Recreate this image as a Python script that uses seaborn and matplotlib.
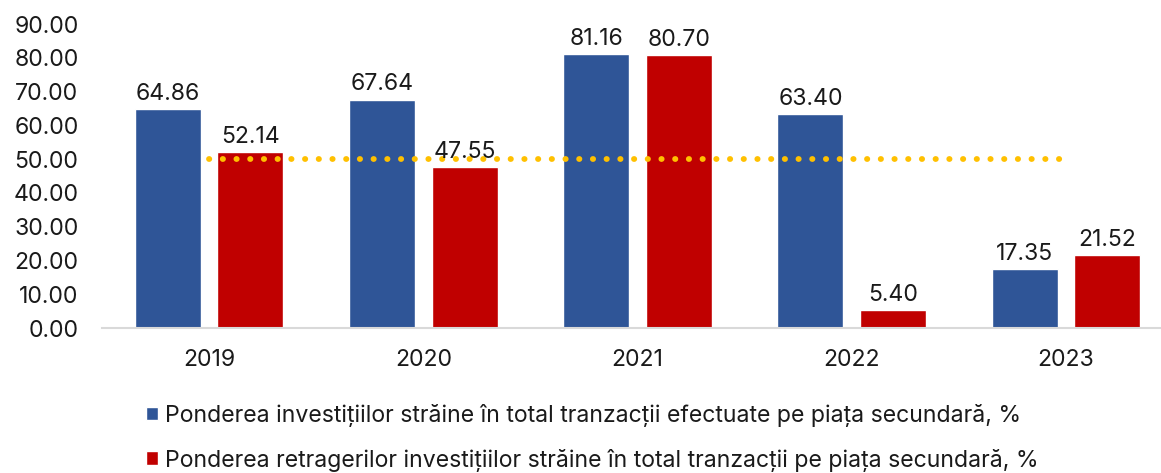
import numpy as np
import pandas as pd
import seaborn as sns
import matplotlib.pyplot as plt

years = ["2019", "2020", "2021", "2022", "2023"]
investitii = [64.86, 67.64, 81.16, 63.40, 17.35]
retrageri = [52.14, 47.55, 80.70, 5.40, 21.52]
prag = [50, 50, 50, 50, 50]

label_inv = "Ponderea investițiilor străine în total tranzacții efectuate pe piața secundară, %"
label_ret = "Ponderea retragerilor investițiilor străine în total tranzacții pe piața secundară, %"

df = pd.DataFrame({
    "an": years * 2,
    "valoare": investitii + retrageri,
    "serie": [label_inv] * len(years) + [label_ret] * len(years),
})

sns.set_style("white")
plt.rcParams['font.family'] = ['Inter', 'DejaVu Sans']
fs = 16.6

fig = plt.figure(figsize=(11.61, 4.73), dpi=100)
ax = fig.add_axes([102 / 1161, 145 / 473, 1071 / 1161, 304 / 473])

sns.barplot(data=df, x="an", y="valoare", hue="serie",
            palette=["#2F5597", "#C00000"], width=0.77, gap=0.2,
            ax=ax, saturation=1)

for cont in ax.containers:
    ax.bar_label(cont, fmt='%.2f', padding=3, fontsize=fs, color='#1a1a1a',
                 zorder=4)

# prag 50%
ax.plot(range(len(years)), prag, color='#FFC000', linewidth=4.2,
        linestyle=(0, (0.05, 2.3)), dash_capstyle='round',
        solid_capstyle='round', zorder=2.5)

ax.set_ylim(0, 90)
ax.set_yticks(np.arange(0, 91, 10))
ax.set_yticklabels([f"{v:.2f}" for v in np.arange(0, 91, 10)])
ax.set_xlim(-0.5, len(years) - 0.5)
ax.tick_params(axis='both', labelsize=fs, length=0, colors='#1a1a1a')
ax.tick_params(axis='y', pad=17)
ax.tick_params(axis='x', pad=15)
ax.set_xlabel("")
ax.set_ylabel("")
for s in ["top", "right", "left"]:
    ax.spines[s].set_visible(False)
ax.spines["bottom"].set_color('#D9D9D9')
ax.spines["bottom"].set_linewidth(1.5)

handles, labels = ax.get_legend_handles_labels()
ax.legend_.remove()
fig.legend(handles, labels, loc='upper left', bbox_to_anchor=(141 / 1161, 1 - 399 / 473),
           frameon=False, fontsize=fs, handlelength=0.55, handleheight=0.55,
           handletextpad=0.3, labelspacing=0.95, labelcolor='#1a1a1a',
           borderaxespad=0, borderpad=0.2)

fig.savefig("out.png", dpi=100)
